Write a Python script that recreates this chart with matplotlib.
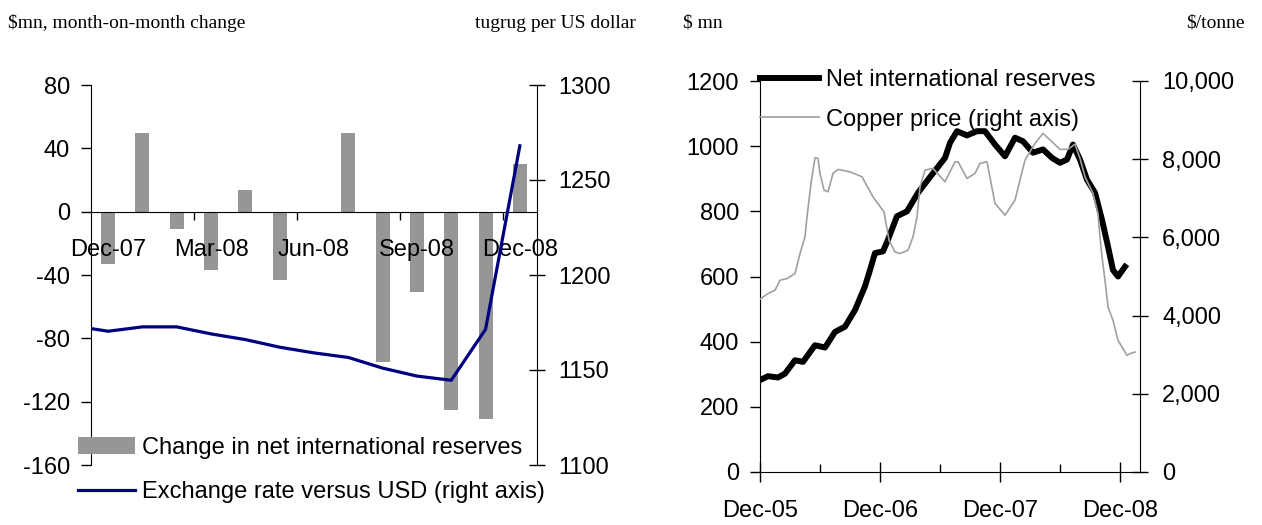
import numpy as np
import matplotlib
matplotlib.use('Agg')
import matplotlib.pyplot as plt
from matplotlib.ticker import FuncFormatter

plt.rcParams['font.family'] = ['Liberation Sans', 'DejaVu Sans']
plt.rcParams['axes.unicode_minus'] = False

# left chart: monthly data, Dec-07 .. Dec-08
months = ['Dec-07', 'Jan-08', 'Feb-08', 'Mar-08', 'Apr-08', 'May-08', 'Jun-08',
          'Jul-08', 'Aug-08', 'Sep-08', 'Oct-08', 'Nov-08', 'Dec-08']
reserve_change = [-33, 50, -11, -37, 14, -43, 0, 50, -95, -51, -125, -131, 30]
# exchange rate starts one month earlier (Nov-07), clipped at the left edge
fx_rate = [1173.2, 1170.4, 1172.7, 1172.7, 1169.0, 1166.0, 1162.0, 1159.0,
           1156.6, 1151.0, 1146.8, 1144.6, 1171.4, 1268.0]

# right chart: months since Dec-05
reserves_t = [0.0, 0.8, 1.8, 2.5, 3.5, 4.3, 5.5, 6.5, 7.5, 8.5, 9.5, 10.5, 11.0,
              11.5, 12.3, 12.8, 13.7, 14.7, 15.8, 17.2, 18.5, 19.0, 19.7, 20.7,
              21.7, 22.5, 23.5, 24.5, 25.5, 26.3, 27.3, 28.3, 29.2, 30.0, 30.7,
              31.3, 32.0, 32.7, 33.5, 34.2, 34.8, 35.3, 35.8, 36.5]
reserves = [282, 294, 290, 302, 343, 338, 389, 382, 430, 446, 497, 570, 620,
            672, 677, 713, 785, 800, 857, 913, 964, 1010, 1046, 1033,
            1046, 1046, 1005, 969, 1026, 1015, 980, 990, 964, 949, 959,
            1005, 959, 897, 857, 774, 692, 620, 600, 630]

copper_t = [0.0, 0.8, 1.5, 2.0, 2.7, 3.5, 4.0, 4.5, 4.7, 5.1, 5.5, 5.8, 6.0, 6.4,
            6.8, 7.3, 7.8, 9.0, 10.2, 11.3, 12.4, 12.9, 13.5, 14.0, 14.8, 15.3,
            15.7, 16.0, 16.5, 17.3, 18.5, 19.5, 19.8, 20.7, 21.5, 22.0, 22.7,
            23.5, 24.5, 25.5, 26.5, 27.5, 28.3, 29.2, 30.0, 30.8, 31.5, 32.0,
            32.5, 33.3, 33.8, 34.0, 34.2, 34.5, 34.8, 35.3, 35.8, 36.7, 37.0, 37.5]
copper = [4420, 4563, 4648, 4904, 4947, 5075, 5588, 6013, 6525, 7380, 8036, 8020,
          7636, 7209, 7165, 7636, 7739, 7677, 7550, 7037, 6653, 5928, 5629, 5588,
          5672, 6013, 6525, 7293, 7721, 7764, 7421, 7934, 7934, 7508, 7636, 7892,
          7934, 6868, 6568, 6953, 7977, 8404, 8660, 8446, 8251, 8251, 8387, 8020,
          7550, 7124, 6612, 6013, 5501, 4904, 4220, 3880, 3367, 2983, 3027, 3068]

FS = 17
W, H = 1262, 525
fig = plt.figure(figsize=(W / 100, H / 100), dpi=100)

# ---------------- left chart
ax1 = fig.add_axes([91 / W, 1 - 465 / H, 446 / W, 380 / H])
x = np.arange(len(months))
bars = ax1.bar(x, reserve_change, width=0.41, color='#969696', zorder=1,
               label='Change in net international reserves')
ax1.set_xlim(-0.5, len(months) - 0.5)
ax1.set_ylim(-160, 80)
ax1.set_yticks([80, 40, 0, -40, -80, -120, -160])
ax1.spines['top'].set_visible(False)
ax1.spines['right'].set_visible(False)
ax1.spines['bottom'].set_position(('data', 0))
ax1.set_xticks([2.5, 5.5, 8.5, 11.5])
ax1.set_xticklabels([])
ax1.set_xticks(x[::3], minor=True)
ax1.set_xticklabels(months[::3], minor=True)
ax1.tick_params(axis='x', which='major', direction='out', length=6, width=1)
ax1.tick_params(axis='x', which='minor', length=0, pad=20, labelsize=FS)
ax1.tick_params(axis='y', direction='out', length=7, width=1, pad=8, labelsize=FS)

ax2 = ax1.twinx()
fx_x = np.arange(-1, len(months))
line_fx, = ax2.plot(fx_x, fx_rate, color='#000080', lw=2.3,
                    label='Exchange rate versus USD (right axis)')
ax2.set_ylim(1100, 1300)
ax2.set_yticks([1100, 1150, 1200, 1250, 1300])
ax2.set_xlim(-0.5, len(months) - 0.5)
for s in ['top', 'left', 'bottom']:
    ax2.spines[s].set_visible(False)
ax2.tick_params(axis='y', direction='inout', length=12, width=1, pad=9, labelsize=FS)

fig.legend(handles=[bars, line_fx], loc='upper left',
           bbox_to_anchor=(78 / W, 1 - 437 / H), bbox_transform=fig.transFigure,
           frameon=False, fontsize=FS, borderpad=0, borderaxespad=0,
           handlelength=2.4, handleheight=0.7, handletextpad=0.3,
           labelspacing=0.95)

# ---------------- right chart
ax3 = fig.add_axes([760 / W, 1 - 472 / H, 380 / W, 391 / H])
line_res, = ax3.plot(reserves_t, reserves, color='black', lw=4.3,
                     solid_joinstyle='round', label='Net international reserves')
ax3.set_xlim(0, 38)
ax3.set_ylim(0, 1200)
ax3.set_yticks(np.arange(0, 1201, 200))
ax3.set_xticks([0, 12, 24, 36])
ax3.set_xticklabels(['Dec-05', 'Dec-06', 'Dec-07', 'Dec-08'])
ax3.set_xticks([6, 18, 30], minor=True)
ax3.spines['top'].set_visible(False)
ax3.spines['right'].set_visible(False)
ax3.tick_params(axis='x', which='major', direction='inout', length=14, width=1,
                pad=13, labelsize=FS)
ax3.tick_params(axis='x', which='minor', direction='in', length=6, width=1)
ax3.tick_params(axis='y', direction='out', length=7, width=1, pad=8, labelsize=FS)

ax4 = ax3.twinx()
line_cu, = ax4.plot(copper_t, copper, color='#a0a0a0', lw=1.2,
                    label='Copper price (right axis)')
ax4.set_ylim(0, 10000)
ax4.set_yticks(np.arange(0, 10001, 2000))
ax4.yaxis.set_major_formatter(FuncFormatter(lambda v, p: f'{v:,.0f}'))
for s in ['top', 'left', 'bottom']:
    ax4.spines[s].set_visible(False)
ax4.tick_params(axis='y', direction='inout', length=12, width=1, pad=10, labelsize=FS)

fig.legend(handles=[line_res, line_cu], loc='upper left',
           bbox_to_anchor=(760 / W, 1 - 69 / H), bbox_transform=fig.transFigure,
           frameon=False, fontsize=FS, borderpad=0, borderaxespad=0,
           handlelength=2.5, handletextpad=0.3, labelspacing=0.75)

# headers
serif = ['Liberation Serif', 'DejaVu Serif']
fig.text(8 / W, 1 - 23 / H, '$mn, month-on-month change', family=serif,
         fontsize=14, va='center', ha='left')
fig.text(636 / W, 1 - 23 / H, 'tugrug per US dollar', family=serif,
         fontsize=14, va='center', ha='right')
fig.text(683 / W, 1 - 23 / H, '$ mn', family=serif,
         fontsize=14, va='center', ha='left')
fig.text(1245 / W, 1 - 23 / H, '$/tonne', family=serif,
         fontsize=14, va='center', ha='right')

fig.savefig('out.png', dpi=100)
